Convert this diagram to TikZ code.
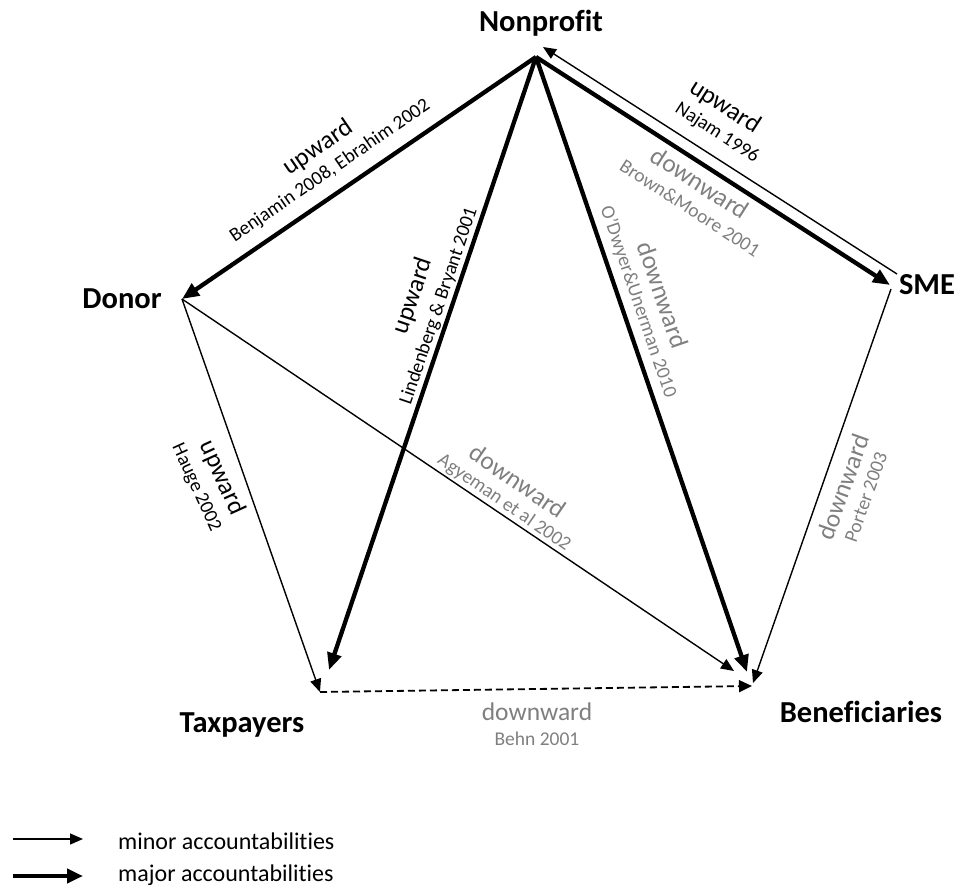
\documentclass[tikz,border=0pt]{standalone}
\usepackage{fontspec}
\setmainfont{Carlito}[Ligatures={NoCommon,NoContextual}]
\usetikzlibrary{arrows.meta}
\definecolor{lbgray}{RGB}{127,127,127}
\tikzset{
  major/.style={line width=4.3pt, -{Triangle[length=17pt,width=14pt]}},
  minor/.style={line width=1.4pt, -{Triangle[length=13pt,width=11pt]}},
  dashminor/.style={line width=1.8pt, dash pattern=on 7pt off 4pt, -{Triangle[length=13pt,width=12pt]}},
  actor/.style={font=\fontsize{30.5}{36}\selectfont\bfseries, inner sep=0, anchor=base},
  dirlab/.style={font=\fontsize{25.5}{30}\selectfont, inner sep=0},
  reflab/.style={font=\fontsize{19.5}{23}\selectfont, inner sep=0},
  graytext/.style={text=lbgray},
  legendtext/.style={font=\fontsize{24}{28}\selectfont, inner sep=0, anchor=base west}
}
\begin{document}
\begin{tikzpicture}[x=1pt,y=-1pt]
\useasboundingbox (0,0) rectangle (959,885);
% vertices
\coordinate (np) at (536,57);
\coordinate (npT) at (543,47);
\coordinate (sme) at (890,285);
\coordinate (smeS) at (897,274);
\coordinate (smeB) at (891,289);
\coordinate (don) at (182,299);
\coordinate (tax) at (320,692);
\coordinate (taxT) at (329,670);
\coordinate (benD) at (734,671);
\coordinate (benT) at (747,672);
\coordinate (benS) at (753,683);
\coordinate (benX) at (752,686);
% actor names
\node[actor] (nNP) at (541,32) {Nonprofit};
\node[actor] (nSME) at (927,295) {SME};
\node[actor] (nDon) at (122,309) {Donor};
\node[actor] (nTax) at (242,732) {Taxpayers};
\node[actor] (nBen) at (861,722) {Beneficiaries};
% connectors
\draw[major] (np) -- (don);
\draw[major] (np) -- (taxT);
\draw[major] (np) -- (benT);
\draw[major] (np) -- (sme);
\draw[minor] (smeS) -- (npT);
\draw[minor] (don) -- (tax);
\draw[minor] (don) -- (benD);
\draw[minor] (smeB) -- (benS);
\draw[dashminor] (tax) -- (benX);
% labels: Nonprofit - Donor
\node[dirlab, rotate=34.4] (l1a) at (318,148) {upward};
\node[reflab, rotate=34.4] (l1b) at (330,171) {Benjamin 2008, Ebrahim 2002};
% SME -> Nonprofit
\node[dirlab, rotate=-32.8] (l2a) at (725,107) {upward};
\node[reflab, rotate=-32.8] (l2b) at (717,133) {Najam 1996};
% Nonprofit -> SME
\node[dirlab, graytext, rotate=-32.8] (l3a) at (700,183) {downward};
\node[reflab, graytext, rotate=-32.8] (l3b) at (690,208) {Brown\&Moore 2001};
% Nonprofit -> Taxpayers
\node[dirlab, rotate=71.3] (l4a) at (413,296) {upward};
\node[reflab, rotate=71.3] (l4b) at (439,306) {Lindenberg \& Bryant 2001};
% Nonprofit -> Beneficiaries
\node[dirlab, graytext, rotate=-71.1] (l5a) at (663,295) {downward};
\node[reflab, graytext, rotate=-71.1] (l5b) at (638,302) {O’Dwyer\&Unerman 2010};
% Donor -> Beneficiaries
\node[dirlab, graytext, rotate=-34.5] (l6a) at (518,481) {downward};
\node[reflab, graytext, rotate=-34.5] (l6b) at (504,503) {Agyeman et al 2002};
% Donor -> Taxpayers
\node[dirlab, rotate=-65.5] (l7a) at (222,478) {upward};
\node[reflab, rotate=-65.5] (l7b) at (196,488) {Hauge 2002};
% SME -> Beneficiaries
\node[dirlab, graytext, rotate=70.3] (l8a) at (843,487) {downward};
\node[reflab, graytext, rotate=70.3] (l8b) at (866,497) {Porter 2003};
% Taxpayers -> Beneficiaries
\node[dirlab, graytext] (l9a) at (537,712) {downward};
\node[reflab, graytext] (l9b) at (537,739) {Behn 2001};
% legend
\coordinate (lg1a) at (13,839);
\coordinate (lg1b) at (83,839);
\coordinate (lg2a) at (13,876);
\coordinate (lg2b) at (83,876);
\draw[minor] (lg1a) -- (lg1b);
\draw[major, -{Triangle[length=16pt,width=14pt]}] (lg2a) -- (lg2b);
\node[legendtext] (lgt1) at (118,849) {minor accountabilities};
\node[legendtext] (lgt2) at (118,881) {major accountabilities};
\end{tikzpicture}
\end{document}
